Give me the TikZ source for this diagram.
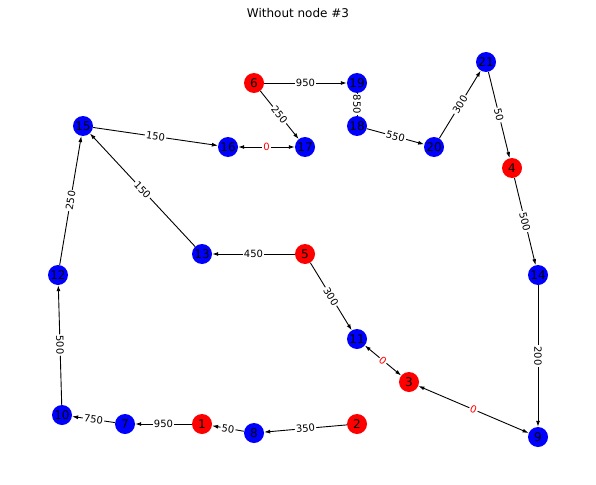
\documentclass[tikz,border=0pt]{standalone}
\usepackage{fontspec}
\setmainfont{DejaVu Sans}
\usepackage{tikz}
\usetikzlibrary{arrows.meta}

\tikzset{
	vtx/.style={circle, minimum size=20pt, inner sep=0pt, font=\fontsize{12}{14}\selectfont},
	rednode/.style={vtx, fill=red},
	bluenode/.style={vtx, fill=blue},
	edge/.style={-{Latex[length=6pt,width=4pt]}, line width=0.9pt},
	twoway/.style={{Latex[length=6pt,width=4pt]}-{Latex[length=6pt,width=4pt]}, line width=0.9pt},
	wlabel/.style={midway, sloped, fill=white, inner sep=1.2pt, font=\fontsize{10}{12}\selectfont},
	zlabel/.style={wlabel, text=red}
}

\begin{document}
\begin{tikzpicture}[x=1pt, y=-1pt]
			\useasboundingbox (0,0) rectangle (596,484);
			\node (title) at (298,13) {\fontsize{12}{14}\selectfont Without node \#3};
			% nodes
			\node[rednode] (n1) at (202,424) {1};
			\node[rednode] (n2) at (357,424) {2};
			\node[rednode] (n3) at (409,382) {3};
			\node[rednode] (n4) at (512,168) {4};
			\node[rednode] (n5) at (305,254) {5};
			\node[rednode] (n6) at (254,83) {6};
			\node[bluenode] (n7) at (125,424) {7};
			\node[bluenode] (n8) at (254,433) {8};
			\node[bluenode] (n9) at (538,437) {9};
			\node[bluenode] (n10) at (62,415) {10};
			\node[bluenode] (n11) at (357,339) {11};
			\node[bluenode] (n12) at (58,275) {12};
			\node[bluenode] (n13) at (202,254) {13};
			\node[bluenode] (n14) at (538,275) {14};
			\node[bluenode] (n15) at (83,126) {15};
			\node[bluenode] (n16) at (228,147) {16};
			\node[bluenode] (n17) at (305,147) {17};
			\node[bluenode] (n18) at (357,126) {18};
			\node[bluenode] (n19) at (357,83) {19};
			\node[bluenode] (n20) at (434,147) {20};
			\node[bluenode] (n21) at (486,62) {21};
			% edges
			\draw[edge] (n6) -- (n19) node[wlabel] {950};
			\draw[edge] (n6) -- (n17) node[wlabel] {250};
			\draw[line width=0.9pt] (n19) -- (n18) node[wlabel] {850};
			\draw[edge] (n18) -- (n20) node[wlabel] {550};
			\draw[edge] (n20) -- (n21) node[wlabel] {300};
			\draw[edge] (n21) -- (n4) node[wlabel] {50};
			\draw[edge] (n4) -- (n14) node[wlabel] {500};
			\draw[edge] (n14) -- (n9) node[wlabel] {200};
			\draw[twoway] (n3) -- (n9) node[zlabel] {0};
			\draw[twoway] (n11) -- (n3) node[zlabel] {0};
			\draw[edge] (n5) -- (n11) node[wlabel] {300};
			\draw[edge] (n5) -- (n13) node[wlabel] {450};
			\draw[edge] (n13) -- (n15) node[wlabel] {150};
			\draw[edge] (n15) -- (n16) node[wlabel] {150};
			\draw[twoway] (n16) -- (n17) node[zlabel] {0};
			\draw[edge] (n12) -- (n15) node[wlabel] {250};
			\draw[edge] (n10) -- (n12) node[wlabel] {500};
			\draw[edge] (n7) -- (n10) node[wlabel] {750};
			\draw[edge] (n1) -- (n7) node[wlabel] {950};
			\draw[edge] (n8) -- (n1) node[wlabel] {50};
			\draw[edge] (n2) -- (n8) node[wlabel] {350};
		\end{tikzpicture}
\end{document}
